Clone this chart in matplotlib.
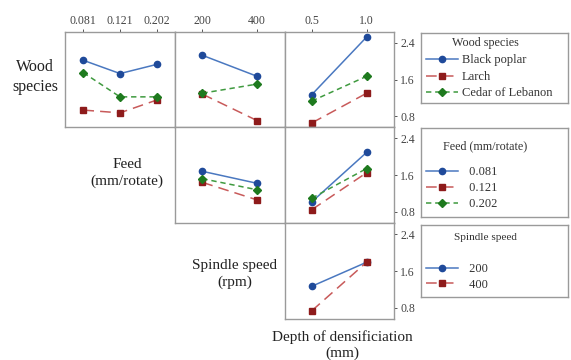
import matplotlib
matplotlib.use("Agg")
import matplotlib.pyplot as plt
from matplotlib.lines import Line2D

plt.rcParams['font.family'] = ['Liberation Serif', 'DejaVu Serif']

# ---- data ----
feed_levels = ['0.081', '0.121', '0.202']
speed_levels = ['200', '400']
depth_levels = ['0.5', '1.0']
species = ['Black poplar', 'Larch', 'Cedar of Lebanon']
feed_names = ['0.081', '0.121', '0.202']
speed_names = ['200', '400']

# wood species vs feed
poplar_by_feed = [2.02, 1.73, 1.93]
larch_by_feed = [0.93, 0.87, 1.15]
cedar_by_feed = [1.75, 1.22, 1.22]
# wood species vs spindle speed
poplar_by_speed = [2.13, 1.67]
larch_by_speed = [1.28, 0.70]
cedar_by_speed = [1.30, 1.50]
# wood species vs depth
poplar_by_depth = [1.27, 2.53]
larch_by_depth = [0.65, 1.30]
cedar_by_depth = [1.13, 1.67]
# feed vs spindle speed
f081_by_speed = [1.68, 1.42]
f121_by_speed = [1.44, 1.06]
f202_by_speed = [1.52, 1.28]
# feed vs depth
f081_by_depth = [1.02, 2.09]
f121_by_depth = [0.85, 1.65]
f202_by_depth = [1.10, 1.74]
# spindle speed vs depth
s200_by_depth = [1.27, 1.79]
s400_by_depth = [0.74, 1.79]

yticks = [0.8, 1.6, 2.4]
ylim = (0.56, 2.64)

# ---- styles ----
styles = [
    dict(color='#4a78c0', ls='-', marker='o', mfc='#1f4a9a', mec='#1f4a9a', ms=4.5, lw=1.1),
    dict(color='#c85a5a', ls=(0, (7, 4)), marker='s', mfc='#8e1b1b', mec='#8e1b1b', ms=4.2, lw=1.1),
    dict(color='#3f9a3f', ls=(0, (3.5, 2.5)), marker='D', mfc='#1e7a1e', mec='#1e7a1e', ms=4.2, lw=1.1),
]

W, H = 571, 360
fig = plt.figure(figsize=(W / 100, H / 100), dpi=100)

def px_axes(x0, y0, x1, y1):
    return fig.add_axes([x0 / W, 1 - y1 / H, (x1 - x0) / W, (y1 - y0) / H])

cols = [(65, 175), (175, 284.5), (284.5, 394)]
rows = [(32, 127), (127, 223), (223, 319)]
frame_col = '#9a9a9a'
tick_col = '#555555'

panels = {
    (0, 0): (feed_levels, [poplar_by_feed, larch_by_feed, cedar_by_feed]),
    (0, 1): (speed_levels, [poplar_by_speed, larch_by_speed, cedar_by_speed]),
    (0, 2): (depth_levels, [poplar_by_depth, larch_by_depth, cedar_by_depth]),
    (1, 1): (speed_levels, [f081_by_speed, f121_by_speed, f202_by_speed]),
    (1, 2): (depth_levels, [f081_by_depth, f121_by_depth, f202_by_depth]),
    (2, 2): (depth_levels, [s200_by_depth, s400_by_depth]),
}

for (r, c), (levels, series) in panels.items():
    x0, x1 = cols[c]
    y0, y1 = rows[r]
    ax = px_axes(x0, y0, x1, y1)
    xs = list(range(len(levels)))
    for i, vals in enumerate(series):
        ax.plot(xs, vals, **styles[i])
    ax.set_xlim(-0.5, len(levels) - 0.5)
    ax.set_ylim(*ylim)
    for sp in ax.spines.values():
        sp.set_color(frame_col)
        sp.set_linewidth(1.0)
    ax.tick_params(colors=tick_col, labelcolor='#444444', labelsize=8.5,
                   length=2.5, width=0.7, pad=2)
    if r == 0:
        ax.xaxis.tick_top()
        ax.set_xticks(xs)
        ax.set_xticklabels(levels)
        ax.tick_params(axis='x', pad=1)
    else:
        ax.set_xticks([])
    if c == 2:
        ax.yaxis.tick_right()
        ax.set_yticks(yticks)
        ax.set_yticklabels([f'{v:.1f}' for v in yticks])
    else:
        ax.set_yticks([])

# row labels
lbl = dict(ha='center', va='center', color='#222222', linespacing=1.3)
fig.text(35 / W, 1 - 77 / H, 'Wood\nspecies', fontsize=11.5, **lbl)
fig.text(127 / W, 1 - 173 / H, 'Feed\n(mm/rotate)', fontsize=11, **lbl)
fig.text(235 / W, 1 - 274 / H, 'Spindle speed\n(rpm)', fontsize=11, **lbl)
fig.text(342 / W, 1 - 345 / H, 'Depth of densificiation\n(mm)', fontsize=11, **lbl)

# legends
def legend_box(y0, y1, title, title_y, names, first_y, spacing, tsize, handle_pad):
    x0, x1 = 421.5, 568
    bax = px_axes(x0, y0, x1, y1)
    bax.set_xlim(x0, x1)
    bax.set_ylim(y1, y0)
    bax.set_xticks([]); bax.set_yticks([])
    for sp in bax.spines.values():
        sp.set_color(frame_col)
        sp.set_linewidth(1.0)
    bax.text(485, title_y, title, ha='center', va='center', fontsize=tsize, color='#333333')
    handles = [Line2D([], [], **styles[i]) for i in range(len(names))]
    leg = bax.legend(handles, names, loc='upper left',
                     bbox_to_anchor=((426 - x0) / (x1 - x0) - 0.02, (y1 - first_y + 8) / (y1 - y0)),
                     frameon=False, fontsize=9, handlelength=2.6, handletextpad=handle_pad,
                     labelspacing=spacing, borderpad=0.2, borderaxespad=0)
    for t in leg.get_texts():
        t.set_color('#333333')

legend_box(33, 103, 'Wood species', 43, species, 60, 0.36, 8.7, 0.3)
legend_box(128, 217, 'Feed (mm/rotate)', 146, [' ' + n for n in feed_names], 172, 0.3, 8.7, 0.6)
legend_box(225, 297, 'Spindle speed', 238, [' ' + n for n in speed_names], 269, 0.25, 8.1, 0.6)

fig.savefig('out.png', dpi=100)
